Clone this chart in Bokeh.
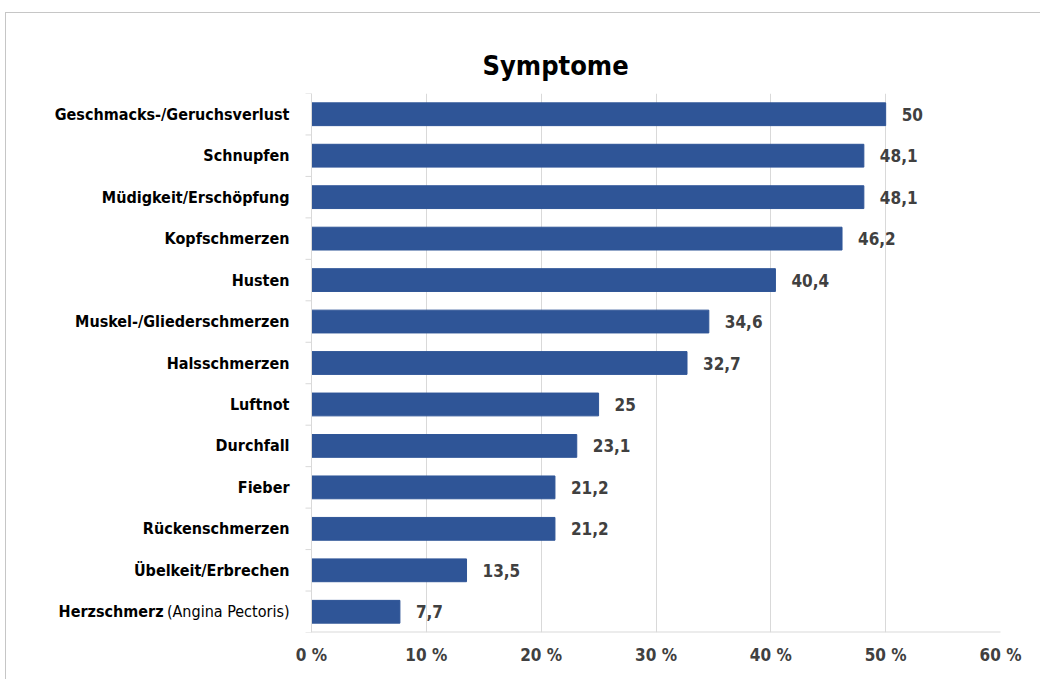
import math
from bokeh.plotting import figure
from bokeh.models import Range1d, FixedTicker, ColumnDataSource, LabelSet, Span
from bokeh.core.properties import value
from bokeh.embed import file_html
from bokeh.resources import INLINE

categories = [
    "Geschmacks-/Geruchsverlust",
    "Schnupfen",
    "Müdigkeit/Erschöpfung",
    "Kopfschmerzen",
    "Husten",
    "Muskel-/Gliederschmerzen",
    "Halsschmerzen",
    "Luftnot",
    "Durchfall",
    "Fieber",
    "Rückenschmerzen",
    "Übelkeit/Erbrechen",
    "Herzschmerz (Angina Pectoris)",
]
values = [50, 48.1, 48.1, 46.2, 40.4, 34.6, 32.7, 25, 23.1, 21.2, 21.2, 13.5, 7.7]
x_ticks = [0, 10, 20, 30, 40, 50, 60]
x_tick_labels = ["0 %", "10 %", "20 %", "30 %", "40 %", "50 %", "60 %"]

FONT = "DejaVu Sans Condensed, Roboto, sans-serif"
BAR = "#2F5597"
GRID = "#d9d9d9"
TXT = "#404040"

n = len(categories)
idx = list(range(n))
value_text = [f"{v:g}".replace(".", ",") for v in values]
bold_labels = [c.split(" (")[0] for c in categories]
normal_labels = ["(" + c.split(" (")[1] if " (" in c else "" for c in categories]

# layout (pixels)
FRAME_W = 994          # frame from chart border to right end of axis
AXIS_PX = 305          # pixel distance of the value axis zero from frame left
DATA_W = 689           # pixel width of 0..60
xmax = x_ticks[-1]
xmin = -AXIS_PX * xmax / DATA_W

src = ColumnDataSource(dict(y=idx, v=values, t=value_text))
lab = ColumnDataSource(dict(y=idx, x=[0] * n, b=bold_labels, nl=normal_labels,
                            off=[-22 - (126 if nl else 0) for nl in normal_labels]))

p = figure(frame_width=FRAME_W, frame_height=539, output_backend="svg",
           toolbar_location=None, y_axis_location=None,
           x_range=Range1d(xmin, xmax), y_range=Range1d(n - 0.5, -0.5),
           min_border_left=0, min_border_top=80, min_border_bottom=48,
           min_border_right=40)
p.margin = (12, 0, 0, 5)
p.styles = {"border-left": "1px solid #c6c6c6", "border-top": "1px solid #c6c6c6"}

p.hbar(y="y", right="v", left=0, height=0.55, source=src, color=BAR)
p.add_layout(LabelSet(x="v", y="y", text="t", source=src, x_offset=16,
                      text_baseline="middle", text_font=value(FONT),
                      text_font_size="17px", text_font_style="bold", text_color=TXT))

# category labels
p.text(x="x", y="y", text="b", source=lab, x_offset="off", text_align="right",
       text_baseline="middle", text_font=value(FONT), text_font_size="16px",
       text_font_style="bold", text_color="#000000")
p.text(x="x", y="y", text="nl", source=lab, x_offset=-22, text_align="right",
       text_baseline="middle", text_font=value(FONT), text_font_size="16px",
       text_font_style="normal", text_color="#000000")

# category axis line and boundary ticks
p.add_layout(Span(location=0, dimension="height", line_color=GRID, line_width=1))
bounds = [i - 0.5 for i in range(n + 1)]
p.ray(x=[0] * len(bounds), y=bounds, length=6, length_units="screen", angle=math.pi,
      line_color=GRID, line_width=1)
# value axis line from 0 to max
p.ray(x=[0], y=[n - 0.5], length=0, angle=0, line_color=GRID, line_width=2)

p.title.text = "Symptome"
p.title.text_font = FONT
p.title.text_font_size = "27px"
p.title.text_font_style = "bold"
p.title.text_color = "#000000"
p.title.align = "left"
p.title.offset = 476
p.title.standoff = 25

p.outline_line_color = None
p.background_fill_color = "white"
p.border_fill_color = "white"

xa = p.xaxis[0]
xa.ticker = FixedTicker(ticks=x_ticks)
xa.major_label_overrides = {t: l for t, l in zip(x_ticks, x_tick_labels)}
xa.major_tick_line_color = None
xa.minor_tick_line_color = None
xa.axis_line_color = None
xa.major_label_text_font = FONT
xa.major_label_text_font_size = "17px"
xa.major_label_text_font_style = "bold"
xa.major_label_text_color = TXT
xa.major_label_standoff = 6

p.xgrid.ticker = FixedTicker(ticks=x_ticks)
p.xgrid.grid_line_color = GRID
p.ygrid.grid_line_color = None

open("out.html", "w").write(file_html(p, INLINE))
